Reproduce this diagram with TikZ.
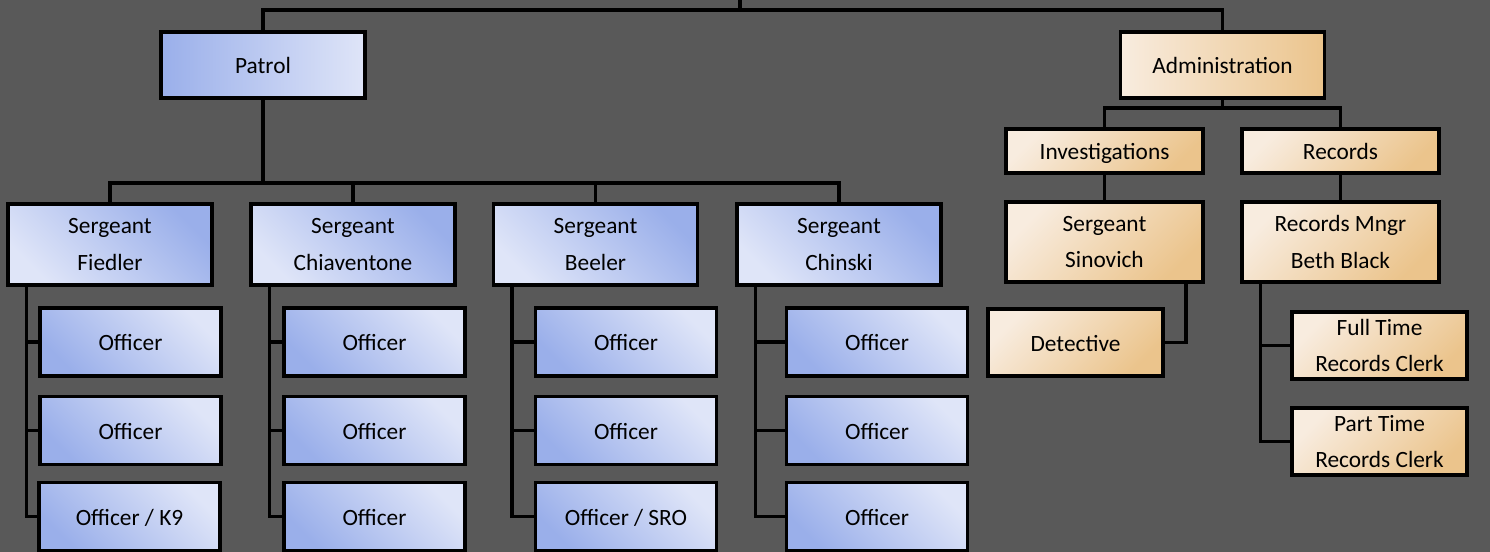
\documentclass[tikz,border=0pt]{standalone}
\usepackage{fontspec}
\setmainfont{Carlito}
\definecolor{pagebg}{HTML}{595959}
\definecolor{bluedark}{HTML}{9AAFEA}
\definecolor{bluelight}{HTML}{DFE5F8}
\definecolor{tanlight}{HTML}{F8ECDF}
\definecolor{tandark}{HTML}{EBC48C}
\begin{document}
\begin{tikzpicture}[x=0.75pt,y=-0.75pt,
    box/.style={draw=black,line width=2.5pt,align=center,inner sep=0pt,
      font=\fontsize{17.5}{27.5}\selectfont},
    oneline/.style={text height=15pt,text depth=1.5pt},
    patrolbox/.style={box,oneline,left color=bluedark,right color=bluelight},
    sgtbox/.style={box,top color=bluedark,bottom color=bluelight,shading angle=-45},
    offbox/.style={box,oneline,top color=bluelight,bottom color=bluedark,shading angle=-45},
    adminbox/.style={box,oneline,left color=tanlight,right color=tandark},
    tanbox/.style={box,top color=tanlight,bottom color=tandark,shading angle=45},
    link/.style={draw=black,line width=2.6pt}]
                \useasboundingbox[fill=pagebg] (0,0) rectangle (1490,552);

                \node[patrolbox,minimum width=153pt,minimum height=49.5pt] (patrol) at (263,65) {Patrol};
                \node[adminbox,minimum width=153pt,minimum height=49.5pt] (admin) at (1222.5,65) {Administration};

                \node[sgtbox,minimum width=153pt,minimum height=60.75pt] (fiedler) at (110,244.5) {Sergeant\\Fiedler};
                \node[sgtbox,minimum width=153pt,minimum height=60.75pt] (chiaventone) at (353,244.5) {Sergeant\\Chiaventone};
                \node[sgtbox,minimum width=153pt,minimum height=60.75pt] (beeler) at (595.5,244.5) {Sergeant\\Beeler};
                \node[sgtbox,minimum width=153pt,minimum height=60.75pt] (chinski) at (839,244.5) {Sergeant\\Chinski};

                \node[offbox,minimum width=135.75pt,minimum height=51pt] (fiedlerA) at (130.5,342) {Officer};
                \node[offbox,minimum width=135.75pt,minimum height=51pt] (fiedlerB) at (130.5,430.5) {Officer};
                \node[offbox,minimum width=135.75pt,minimum height=51pt] (fiedlerC) at (129.5,516.5) {Officer / K9};
                \node[offbox,minimum width=135.75pt,minimum height=51pt] (chiaventoneA) at (374.5,342) {Officer};
                \node[offbox,minimum width=135.75pt,minimum height=51pt] (chiaventoneB) at (374.5,430.5) {Officer};
                \node[offbox,minimum width=135.75pt,minimum height=51pt] (chiaventoneC) at (374.5,516.5) {Officer};
                \node[offbox,minimum width=135.75pt,minimum height=51pt] (beelerA) at (626,342) {Officer};
                \node[offbox,minimum width=135.75pt,minimum height=51pt] (beelerB) at (626,430.5) {Officer};
                \node[offbox,minimum width=135.75pt,minimum height=51pt] (beelerC) at (626,516.5) {Officer / SRO};
                \node[offbox,minimum width=135.75pt,minimum height=51pt] (chinskiA) at (877,342) {Officer};
                \node[offbox,minimum width=135.75pt,minimum height=51pt] (chinskiB) at (877,430.5) {Officer};
                \node[offbox,minimum width=135.75pt,minimum height=51pt] (chinskiC) at (877,516.5) {Officer};

                \node[tanbox,oneline,minimum width=147.75pt,minimum height=33pt] (invest) at (1104.5,151) {Investigations};
                \node[tanbox,oneline,minimum width=147.75pt,minimum height=33pt] (records) at (1340.5,151) {Records};
                \node[tanbox,minimum width=147.75pt,minimum height=60pt] (sinovich) at (1104.5,242) {Sergeant\\Sinovich};
                \node[tanbox,minimum width=147.75pt,minimum height=60pt] (recmngr) at (1340.5,242) {Records Mngr\\Beth Black};
                \node[tanbox,oneline,minimum width=131.25pt,minimum height=50.25pt] (detective) at (1075.5,342.5) {Detective};
                \node[tanbox,minimum width=131.25pt,minimum height=50.25pt] (fulltime) at (1379.5,345.5) {Full Time\\Records Clerk};
                \node[tanbox,minimum width=131.25pt,minimum height=50.25pt] (parttime) at (1379.5,441.5) {Part Time\\Records Clerk};

                \coordinate (roottop) at (740,0);
                \coordinate (rootbus) at (740,10);
                \coordinate (patrolbus) at (263,183);
                \coordinate (adminbus) at (1222.5,108);

                \draw[link] (roottop) -- (rootbus);
                \draw[link] (patrol.north) |- (rootbus) -| (admin.north);
                \foreach \s in {fiedler,chiaventone,beeler,chinski} {
                    \draw[link] (\s.north) |- (patrolbus) -- (patrol.south);
                    \foreach \o in {A,B,C}
                        \draw[link] ([xshift=15pt]\s.south west) |- (\s\o.west);
                }
                \draw[link,line width=3pt] (patrolbus) -- (patrol.south);
                \draw[link] (invest.north) |- (adminbus) -| (records.north);
                \draw[link] (adminbus) -- (admin.south);
                \draw[link] (invest) -- (sinovich);
                \draw[link] (records) -- (recmngr);
                \draw[link] ([xshift=-14pt]sinovich.south east) |- (detective.east);
                \draw[link] ([xshift=15pt]recmngr.south west) |- (fulltime.west);
                \draw[link] ([xshift=15pt]recmngr.south west) |- (parttime.west);
\end{tikzpicture}
\end{document}
